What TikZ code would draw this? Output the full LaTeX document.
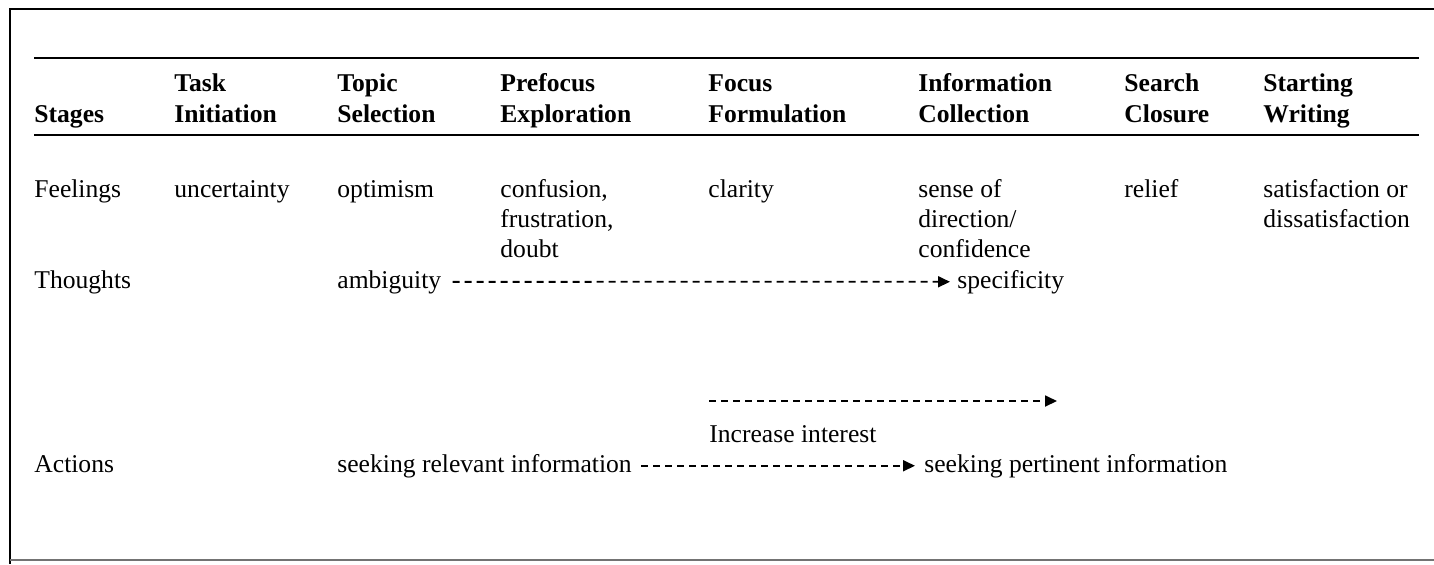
\documentclass[tikz,border=0pt]{standalone}
\usepackage{fontspec}
\setmainfont{Liberation Serif}
\usetikzlibrary{positioning,arrows.meta}

\begin{document}
\begin{tikzpicture}[x=0.5pt, y=-0.5pt,
  cell/.style={anchor=base west, inner sep=0pt, align=left,
               font=\fontsize{12.8}{15}\selectfont},
  head/.style={cell, font=\fontsize{12.8}{15.5}\selectfont\bfseries},
  rule/.style={line width=1.3pt},
  arr/.style={dash pattern=on 3.5pt off 2.5pt, line width=0.9pt,
              -{Triangle[length=6pt, width=5.5pt]}}]
\useasboundingbox (0,0) rectangle (1434,564);
% frame and rules
\draw[line width=0.9pt] (1434,9) -- (10,9) -- (10,564);
\draw[line width=0.9pt, black!55] (10,560) -- (1434,560);
\draw[rule] (34,58) -- (1419,58);
\draw[rule] (34,135) -- (1419,135);
% header (base = last line)
\node[head] (st) at (34,122)   {Stages};
\node[head] (ti) at (174,122)  {Task\\Initiation};
\node[head] (ts) at (337,122)  {Topic\\Selection};
\node[head] (pe) at (500,122)  {Prefocus\\Exploration};
\node[head] (ff) at (708,122)  {Focus\\Formulation};
\node[head] (ic) at (918,122)  {Information\\Collection};
\node[head] (sc) at (1124,122) {Search\\Closure};
\node[head] (sw) at (1263,122) {Starting\\Writing};
% feelings
\node[cell] (fe)  at (34,197)   {Feelings};
\node[cell] (fe1) at (174,197)  {uncertainty};
\node[cell] (fe2) at (337,197)  {optimism};
\node[cell] (fe3) at (500,257)  {confusion,\\frustration,\\doubt};
\node[cell] (fe4) at (708,197)  {clarity};
\node[cell] (fe5) at (918,257)  {sense of\\direction/\\confidence};
\node[cell] (fe6) at (1124,197) {relief};
\node[cell] (fe7) at (1263,227) {satisfaction or\\dissatisfaction};
% thoughts
\node[cell] (th)  at (34,288)  {Thoughts};
\node[cell] (amb) at (337,288) {ambiguity};
\node[cell] (spe) at (957,288) {specificity};
\draw[arr, shorten <=5.5pt, shorten >=3.5pt] (amb) -- (spe);
% interest
\coordinate (ii1) at (709,401);
\coordinate (ii2) at (1057,401);
\draw[arr] (ii1) -- (ii2);
\node[cell] (int) at (709,442) {Increase interest};
% actions
\node[cell] (ac)  at (34,472)  {Actions};
\node[cell] (rel) at (337,472) {seeking relevant information};
\node[cell] (per) at (924,472) {seeking pertinent information};
\draw[arr, shorten <=4.5pt, shorten >=4.5pt] (rel) -- (per);
\end{tikzpicture}
\end{document}
